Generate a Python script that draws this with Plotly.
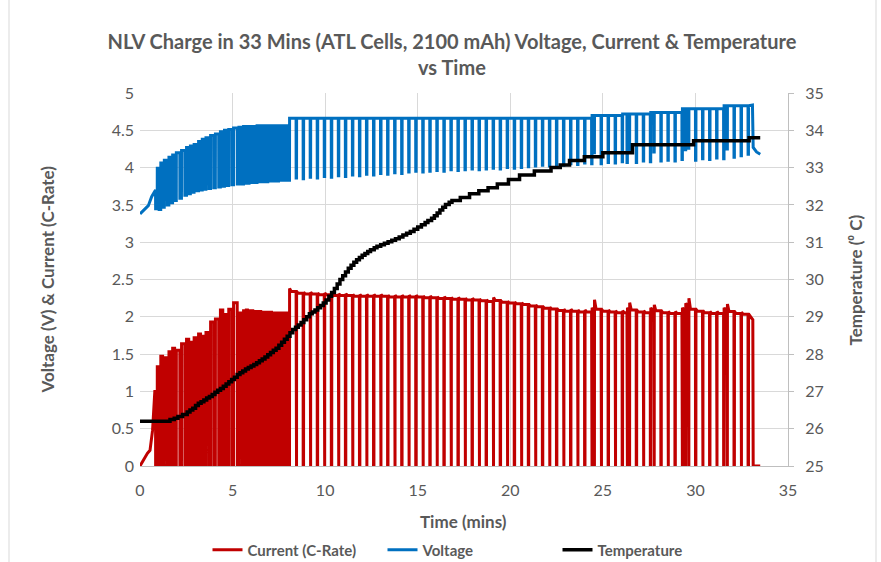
import plotly.graph_objects as go

# ---------------- data ----------------
# initial ramp before pulsing starts
cur_start_t = [0.0, 0.27, 0.40, 0.54, 0.68, 0.80]
cur_start_v = [0.0, 0.12, 0.17, 0.21, 0.48, 1.00]
volt_start_t = [0.0, 0.27, 0.45, 0.63, 0.80]
volt_start_v = [3.38, 3.45, 3.49, 3.61, 3.70]

# early pulse phase (0.8 - 8 min): rest (dip) times and levels
early_dip_t = [0.84, 1.03, 1.22, 1.47, 1.67, 1.87, 2.15, 2.42, 2.63, 2.83,
               3.07, 3.27, 3.47, 3.72, 3.98, 4.25, 4.47, 4.70, 4.96, 5.25,
               5.50, 5.65, 5.80, 5.94, 6.09, 6.23, 6.38, 6.52, 6.67, 6.81,
               6.96, 7.10, 7.25, 7.39, 7.54, 7.68, 7.83]
early_cur_on = [1.33, 1.47, 1.45, 1.53, 1.58, 1.55, 1.64, 1.70, 1.66, 1.72,
                1.77, 1.74, 1.79, 1.93, 1.97, 2.09, 2.03, 2.10, 2.19, 2.05,
                2.08, 2.09, 2.08, 2.08, 2.07, 2.07, 2.07, 2.06, 2.06, 2.06,
                2.06, 2.05, 2.05, 2.05, 2.05, 2.05, 2.05]
early_volt_lo = [3.45, 3.44, 3.47, 3.50, 3.53, 3.56, 3.59, 3.63, 3.65, 3.67,
                 3.69, 3.70, 3.71, 3.72, 3.73, 3.74, 3.75, 3.76, 3.77, 3.78,
                 3.78, 3.79, 3.79, 3.80, 3.80, 3.80, 3.81, 3.81, 3.81, 3.81,
                 3.82, 3.82, 3.82, 3.82, 3.83, 3.83, 3.83]
early_volt_hi = [3.99, 4.06, 4.10, 4.14, 4.17, 4.20, 4.23, 4.27, 4.29, 4.31,
                 4.35, 4.38, 4.40, 4.43, 4.45, 4.48, 4.50, 4.51, 4.53, 4.54,
                 4.55, 4.55, 4.55, 4.55, 4.55, 4.56, 4.56, 4.56, 4.56, 4.56,
                 4.56, 4.56, 4.56, 4.56, 4.56, 4.56, 4.56]

# late pulse phase (8 - 33 min)
late_dip_t = [8.05, 8.43, 8.81, 9.19, 9.57, 9.95, 10.33, 10.71, 11.09, 11.47,
              11.85, 12.23, 12.61, 12.99, 13.37, 13.75, 14.13, 14.51, 14.89, 15.27,
              15.65, 16.03, 16.41, 16.79, 17.17, 17.55, 17.93, 18.31, 18.69, 19.07,
              19.45, 19.83, 20.21, 20.59, 20.97, 21.35, 21.73, 22.11, 22.49, 22.87,
              23.25, 23.63, 24.01, 24.39, 24.52, 24.90, 25.28, 25.66, 26.04, 26.30,
              26.42, 26.80, 27.18, 27.56, 27.75, 28.13, 28.51, 28.89, 29.27, 29.45,
              29.62, 30.00, 30.38, 30.76, 31.14, 31.52, 31.70, 32.08, 32.46, 32.84]
late_cur_peak = [2.38, 2.34, 2.33, 2.33, 2.32, 2.32, 2.31, 2.31, 2.31, 2.30,
                 2.30, 2.30, 2.30, 2.30, 2.29, 2.29, 2.29, 2.29, 2.29, 2.28,
                 2.28, 2.27, 2.27, 2.26, 2.26, 2.25, 2.25, 2.24, 2.23, 2.26,
                 2.22, 2.21, 2.20, 2.19, 2.17, 2.16, 2.14, 2.13, 2.11, 2.10,
                 2.10, 2.09, 2.09, 2.12, 2.23, 2.10, 2.09, 2.08, 2.08, 2.12,
                 2.19, 2.09, 2.08, 2.12, 2.16, 2.08, 2.07, 2.07, 2.12, 2.18,
                 2.25, 2.10, 2.08, 2.07, 2.07, 2.12, 2.17, 2.07, 2.06, 2.04]
late_volt_lo = [3.83, 3.86, 3.85, 3.87, 3.86, 3.88, 3.87, 3.89, 3.88, 3.90,
                3.89, 3.91, 3.90, 3.92, 3.91, 3.93, 3.92, 3.94, 3.95, 3.94,
                3.95, 3.96, 3.95, 3.97, 3.96, 3.97, 3.98, 3.97, 3.98, 3.99,
                3.98, 4.00, 3.99, 4.00, 4.01, 4.02, 4.03, 4.02, 4.04, 4.03,
                4.05, 4.04, 4.06, 4.05, 4.20, 4.05, 4.07, 4.06, 4.08, 4.07,
                4.22, 4.07, 4.09, 4.08, 4.21, 4.09, 4.10, 4.09, 4.11, 4.24,
                4.26, 4.10, 4.12, 4.11, 4.13, 4.12, 4.25, 4.14, 4.16, 4.18]
# constant-voltage level during late phase (changes at these times)
volt_cv_t = [8.05, 24.1, 26.0, 27.3, 29.2, 31.4]
volt_cv_v = [4.66, 4.70, 4.72, 4.74, 4.79, 4.83]

# end of test
cur_end_t = [33.10, 33.12, 33.50]
cur_end_v = [1.96, 0.0, 0.0]
volt_end_t = [33.08, 33.12, 33.30, 33.50]
volt_end_v = [4.84, 4.27, 4.21, 4.18]

# temperature staircase (time in mins, deg C)
temp_t = [0.00, 1.62, 1.85, 2.05, 2.30, 2.55, 2.70, 2.85, 3.00, 3.15,
          3.30, 3.45, 3.60, 3.75, 3.90, 4.05, 4.20, 4.35, 4.50, 4.65,
          4.80, 4.95, 5.10, 5.25, 5.40, 5.55, 5.70, 5.85, 6.00, 6.15,
          6.30, 6.45, 6.60, 6.75, 6.90, 7.05, 7.20, 7.35, 7.50, 7.65,
          7.80, 7.95, 8.10, 8.25, 8.40, 8.55, 8.70, 8.85, 9.00, 9.15,
          9.30, 9.45, 9.60, 9.75, 9.90, 10.05, 10.20, 10.35, 10.50, 10.65,
          10.80, 10.95, 11.10, 11.25, 11.40, 11.55, 11.70, 11.85, 12.00, 12.15,
          12.30, 12.45, 12.65, 12.80, 13.00, 13.20, 13.40, 13.60, 13.80, 14.00,
          14.20, 14.40, 14.60, 14.80, 15.00, 15.20, 15.40, 15.55, 15.75, 15.90,
          16.05, 16.20, 16.35, 16.50, 16.70, 16.85, 17.30, 17.80, 18.30, 18.80,
          19.30, 19.90, 20.50, 21.30, 22.20, 22.70, 23.20, 24.00, 25.00, 26.60,
          29.90, 32.90, 33.50]
temp_v = [26.20, 26.25, 26.28, 26.33, 26.38, 26.45, 26.50, 26.55, 26.62, 26.68,
          26.72, 26.77, 26.82, 26.86, 26.92, 26.98, 27.03, 27.08, 27.14, 27.20,
          27.26, 27.32, 27.38, 27.45, 27.50, 27.55, 27.60, 27.64, 27.68, 27.72,
          27.77, 27.82, 27.87, 27.92, 27.98, 28.04, 28.10, 28.16, 28.24, 28.32,
          28.40, 28.48, 28.57, 28.66, 28.72, 28.78, 28.85, 28.92, 29.00, 29.08,
          29.13, 29.18, 29.24, 29.30, 29.37, 29.45, 29.55, 29.65, 29.76, 29.88,
          30.00, 30.10, 30.20, 30.30, 30.38, 30.46, 30.53, 30.59, 30.65, 30.70,
          30.75, 30.80, 30.85, 30.89, 30.93, 30.97, 31.01, 31.05, 31.09, 31.14,
          31.19, 31.24, 31.29, 31.35, 31.41, 31.47, 31.53, 31.58, 31.64, 31.71,
          31.78, 31.86, 31.94, 32.01, 32.07, 32.12, 32.20, 32.30, 32.38, 32.46,
          32.56, 32.68, 32.80, 32.91, 33.00, 33.07, 33.19, 33.29, 33.40, 33.61,
          33.72, 33.80, 33.80]

# ---------------- build the waveforms ----------------
EDGE = 0.004
EARLY_OFF = 0.09
LATE_OFF = 0.025
SETTLE = 0.025


def cv_level(t):
    lvl = volt_cv_v[0]
    for tt, vv in zip(volt_cv_t, volt_cv_v):
        if t >= tt:
            lvl = vv
    return lvl


cx, cy = list(cur_start_t), list(cur_start_v)
vx, vy = list(volt_start_t), list(volt_start_v)
prev_c = cur_start_v[-1]
prev_v = volt_start_v[-1]
for t, con, lo, hi in zip(early_dip_t, early_cur_on, early_volt_lo, early_volt_hi):
    cx += [t, t + EDGE, t + EARLY_OFF, t + EARLY_OFF + EDGE]
    cy += [prev_c, 0, 0, con]
    vx += [t, t + EDGE, t + EARLY_OFF, t + EARLY_OFF + EDGE]
    vy += [prev_v, lo, lo, hi]
    prev_c, prev_v = con, hi

n_late = len(late_dip_t)
for i, (t, pk, lo) in enumerate(zip(late_dip_t, late_cur_peak, late_volt_lo)):
    nxt = late_cur_peak[i + 1] if i + 1 < n_late else pk
    settled = min(pk - SETTLE, nxt)
    cx += [t, t + EDGE, t + LATE_OFF, t + LATE_OFF + EDGE, t + LATE_OFF + 0.09]
    cy += [prev_c, 0, 0, pk, settled]
    hi = cv_level(t)
    vx += [t, t + EDGE, t + LATE_OFF, t + LATE_OFF + EDGE]
    vy += [prev_v, lo, lo, hi]
    prev_c, prev_v = settled, hi

cx += cur_end_t
cy += cur_end_v
vx += volt_end_t
vy += volt_end_v

# ---------------- figure ----------------
TXT = "#595959"
FONT = "Lato"

fig = go.Figure()
fig.add_trace(go.Scatter(x=cx, y=cy, mode="lines", name="Current (C-Rate)",
                         line=dict(color="#C00000", width=3)))
fig.add_trace(go.Scatter(x=vx, y=vy, mode="lines", name="Voltage",
                         line=dict(color="#0070C0", width=3)))
fig.add_trace(go.Scatter(x=temp_t, y=temp_v, mode="lines", name="Temperature",
                         yaxis="y2", line=dict(color="#000000", width=3.5, shape="hv")))

fig.update_layout(
    width=881, height=562,
    margin=dict(l=140, r=93, t=93, b=96, autoexpand=False),
    paper_bgcolor="white", plot_bgcolor="white",
    font=dict(family=FONT, color=TXT, size=16),
    title=dict(text="NLV Charge in 33 Mins (ATL Cells, 2100 mAh) Voltage, Current & Temperature<br>vs Time",
               x=0.513, xref="container", xanchor="center",
               y=0.912, yref="container", yanchor="top",
               font=dict(family=FONT, size=20, color=TXT, weight="bold")),
    xaxis=dict(range=[0, 35], dtick=5, tick0=0, showgrid=True, gridcolor="#d9d9d9",
               gridwidth=1, zeroline=False, showline=True, linecolor="#bfbfbf",
               linewidth=1, ticks="", ticklabelstandoff=10,
               tickfont=dict(size=16, color=TXT)),
    yaxis=dict(range=[0, 5], dtick=0.5, tick0=0, showgrid=True, gridcolor="#d9d9d9",
               gridwidth=1, zeroline=False, showline=False, ticks="",
               ticklabelstandoff=5, tickfont=dict(size=16, color=TXT)),
    yaxis2=dict(range=[25, 35], dtick=1, tick0=25, overlaying="y", side="right",
                showgrid=False, zeroline=False, showline=True, linecolor="#bfbfbf",
                linewidth=1, ticks="outside", ticklen=5, tickcolor="#bfbfbf",
                ticklabelstandoff=8, tickfont=dict(size=16, color=TXT)),
    legend=dict(orientation="h", x=470 / 881, xref="container", xanchor="center",
                y=1 - 550 / 562, yref="container", yanchor="middle",
                entrywidth=130, entrywidthmode="pixels",
                font=dict(family=FONT, size=15, color=TXT, weight="bold"),
                bgcolor="rgba(0,0,0,0)"),
    showlegend=True,
)

fig.add_annotation(text="Voltage (V) & Current (C-Rate)", xref="paper", yref="paper",
                   x=(47 - 140) / 648, y=0.5, xanchor="center", yanchor="middle",
                   textangle=-90, showarrow=False,
                   font=dict(family=FONT, size=17, color=TXT, weight="bold"))
fig.add_annotation(text="Temperature (\u2070 C)", xref="paper", yref="paper",
                   x=(855 - 140) / 648, y=0.5, xanchor="center", yanchor="middle",
                   textangle=-90, showarrow=False,
                   font=dict(family=FONT, size=17, color=TXT, weight="bold"))
fig.add_annotation(text="Time (mins)", xref="paper", yref="paper",
                   x=(463 - 140) / 648, y=(466 - 521) / 373, xanchor="center",
                   yanchor="middle", showarrow=False,
                   font=dict(family=FONT, size=17, color=TXT, weight="bold"))

# chart-area border (left and right edges visible in the reference)
for xp in [(9 - 140) / 648, (876 - 140) / 648]:
    fig.add_shape(type="line", xref="paper", yref="paper", x0=xp, x1=xp,
                  y0=(466 - 562) / 373, y1=(466 - 0) / 373,
                  line=dict(color="#d9d9d9", width=1))

fig.write_html("out.html", config={"displayModeBar": False},
               post_script="document.body.style.margin='0';")
